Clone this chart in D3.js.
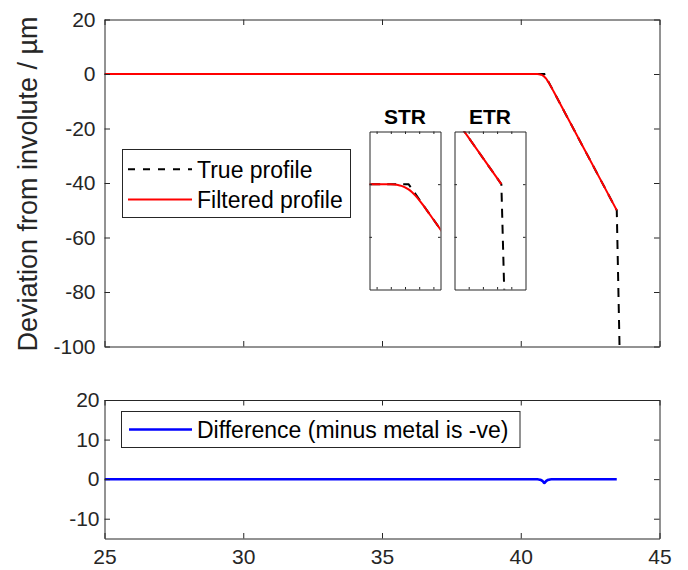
<!DOCTYPE html>
<html>
<head>
<meta charset="utf-8">
<script src="https://cdn.jsdelivr.net/npm/d3@7"></script>
<style>
  body { margin: 0; background: #fff; }
  text { font-family: "Liberation Sans", Arial, sans-serif; }
</style>
</head>
<body>
<svg id="chart" width="688" height="570"></svg>
<script>
// profile position (mm) vs deviation (µm)
var trueX = [25, 40.85, 43.46, 43.56];
var trueY = [0, 0, -50, -100];

var filtX = [25, 40.5, 40.6, 40.65, 40.7, 40.75, 40.8, 40.85, 40.9, 40.95, 41.0, 41.05, 41.1, 41.2, 43.46];
var filtY = [0, 0, -0.03, -0.07, -0.15, -0.32, -0.59, -1.0, -1.55, -2.23, -3.03, -3.9, -4.82, -6.71, -50];

var diffX = [25, 40.5, 40.6, 40.65, 40.7, 40.75, 40.8, 40.85, 40.9, 40.95, 41.0, 41.05, 41.1, 41.2, 43.46];
var diffY = [0, 0, -0.03, -0.07, -0.15, -0.32, -0.59, -1.0, -0.59, -0.32, -0.15, -0.07, -0.03, 0, 0];

// ticks
var xTicks = [25, 30, 35, 40, 45];
var mainYTicks = [-100, -80, -60, -40, -20, 0, 20];
var diffYTicks = [-10, 0, 10, 20];
var strXTicks = [40.4, 40.6, 40.8, 41.0, 41.2];
var strYTicks = [-10, 0];
var etrXTicks = [43.0, 43.2, 43.4, 43.6];
var etrYTicks = [-60, -50];

// texts
var yTitle = "Deviation from involute / \u00b5m";
var legendTop = ["True profile", "Filtered profile"];
var legendBottom = ["Difference (minus metal is -ve)"];
var insetTitles = ["STR", "ETR"];

var svg = d3.select("#chart");
var axisCol = "#262626";
var fontFam = "Liberation Sans, Arial, sans-serif";

var trueData = d3.zip(trueX, trueY);
var filtData = d3.zip(filtX, filtY);
var diffData = d3.zip(diffX, diffY);

// one set of axes: frame, clip, ticks on all four sides
function makeAxes(id, box, xDom, yDom, opt) {
    var x = d3.scaleLinear().domain(xDom).range([box.l, box.r]);
    var y = d3.scaleLinear().domain(yDom).range([box.b, box.t]);
    var g = svg.append("g").attr("class", id);

    g.append("rect")
        .attr("x", box.l).attr("y", box.t)
        .attr("width", box.r - box.l).attr("height", box.b - box.t)
        .attr("fill", "#fff");

    svg.append("clipPath").attr("id", "clip-" + id)
        .append("rect")
        .attr("x", box.l).attr("y", box.t)
        .attr("width", box.r - box.l).attr("height", box.b - box.t);

    var plot = g.append("g").attr("clip-path", "url(#clip-" + id + ")");

    var fmt = function(d){ return String(d); };
    var none = function(){ return ""; };

    var ax = g.append("g").attr("color", axisCol);

    var parts = [
        ax.append("g").attr("transform", "translate(0," + box.b + ")")
            .call(d3.axisBottom(x).tickValues(opt.xt).tickSize(-opt.tl).tickSizeOuter(0)
                .tickPadding(opt.xpad || 11).tickFormat(opt.xlab ? fmt : none)),
        ax.append("g").attr("transform", "translate(0," + box.t + ")")
            .call(d3.axisTop(x).tickValues(opt.xt).tickSize(-opt.tl).tickSizeOuter(0).tickFormat(none)),
        ax.append("g").attr("transform", "translate(" + box.l + ",0)")
            .call(d3.axisLeft(y).tickValues(opt.yt).tickSize(-opt.tl).tickSizeOuter(0)
                .tickPadding(opt.ypad || 5).tickFormat(opt.ylab ? fmt : none)),
        ax.append("g").attr("transform", "translate(" + box.r + ",0)")
            .call(d3.axisRight(y).tickValues(opt.yt).tickSize(-opt.tl).tickSizeOuter(0).tickFormat(none))
    ];
    parts.forEach(function(p){
        p.attr("font-size", opt.fs).attr("font-family", fontFam);
    });

    ax.selectAll("text").attr("fill", axisCol);
    ax.selectAll("path, line").attr("stroke-width", 1);

    return { x: x, y: y, plot: plot, g: g };
}

function drawLines(a) {
    var line = d3.line().x(function(d){ return a.x(d[0]); }).y(function(d){ return a.y(d[1]); });
    var smooth = d3.line().curve(d3.curveMonotoneX)
        .x(function(d){ return a.x(d[0]); }).y(function(d){ return a.y(d[1]); });

    a.plot.append("path").datum(trueData)
        .attr("d", line).attr("fill", "none")
        .attr("stroke", "#000").attr("stroke-width", 2).attr("stroke-dasharray", "9,7");
    a.plot.append("path").datum(filtData)
        .attr("d", smooth).attr("fill", "none")
        .attr("stroke", "#ff0000").attr("stroke-width", 2);
}

// main profile axes
var main = makeAxes("main", { l: 104.5, r: 659.5, t: 19.5, b: 346.5 }, [25, 45], [-100, 20],
    { xt: xTicks, yt: mainYTicks, tl: 5.5, fs: 21, xlab: false, ylab: true, ypad: 9 });
drawLines(main);

svg.append("text")
    .attr("transform", "translate(37,184) rotate(-90)")
    .attr("text-anchor", "middle")
    .attr("font-size", 27)
    .attr("fill", axisCol)
    .text(yTitle);

// legend, main axes
var lg = svg.append("g");
lg.append("rect").attr("x", 122.5).attr("y", 149.5).attr("width", 228).attr("height", 68)
    .attr("fill", "#fff").attr("stroke", axisCol).attr("stroke-width", 1);
var legStyle = [
    { stroke: "#000", dash: "7,8" },
    { stroke: "#ff0000", dash: null }
];
var legRowY = [169.3, 199.5];
legendTop.forEach(function(t, i){
    lg.append("line").attr("x1", 128).attr("x2", 192).attr("y1", legRowY[i]).attr("y2", legRowY[i])
        .attr("stroke", legStyle[i].stroke).attr("stroke-width", 2)
        .attr("stroke-dasharray", legStyle[i].dash);
    lg.append("text").attr("x", 197).attr("y", legRowY[i] + 8.2)
        .attr("font-size", 23).attr("fill", "#000").text(t);
});

// insets
var strAx = makeAxes("str", { l: 369.5, r: 440.5, t: 131.5, b: 289.5 }, [40.3, 41.3], [-20, 10],
    { xt: strXTicks, yt: strYTicks, tl: 2.5, fs: 10, xlab: false, ylab: false });
drawLines(strAx);
var etrAx = makeAxes("etr", { l: 454.5, r: 525.5, t: 131.5, b: 289.5 }, [42.8, 43.8], [-70, -40],
    { xt: etrXTicks, yt: etrYTicks, tl: 2.5, fs: 10, xlab: false, ylab: false });
drawLines(etrAx);

[[strAx, 405], [etrAx, 490]].forEach(function(p, i){
    svg.append("text").attr("x", p[1]).attr("y", 124.3)
        .attr("text-anchor", "middle").attr("font-weight", "bold")
        .attr("font-size", 21).attr("fill", "#000")
        .text(insetTitles[i]);
});

// difference axes
var diff = makeAxes("diff", { l: 104.5, r: 659.5, t: 400, b: 538.5 }, [25, 45], [-15, 20],
    { xt: xTicks, yt: diffYTicks, tl: 5.5, fs: 21, xlab: true, ylab: true, ypad: 5, xpad: 11 });
diff.plot.append("path").datum(diffData)
    .attr("d", d3.line().curve(d3.curveMonotoneX)
        .x(function(d){ return diff.x(d[0]); }).y(function(d){ return diff.y(d[1]); }))
    .attr("fill", "none").attr("stroke", "#0000ff").attr("stroke-width", 2.5);

var lb = svg.append("g");
lb.append("rect").attr("x", 121.5).attr("y", 411.5).attr("width", 398.5).attr("height", 36)
    .attr("fill", "#fff").attr("stroke", axisCol).attr("stroke-width", 1);
lb.append("line").attr("x1", 129).attr("x2", 192).attr("y1", 429.5).attr("y2", 429.5)
    .attr("stroke", "#0000ff").attr("stroke-width", 2.5);
lb.append("text").attr("x", 197).attr("y", 437.8)
    .attr("font-size", 23).attr("fill", "#000").text(legendBottom[0]);
</script>
</body>
</html>
